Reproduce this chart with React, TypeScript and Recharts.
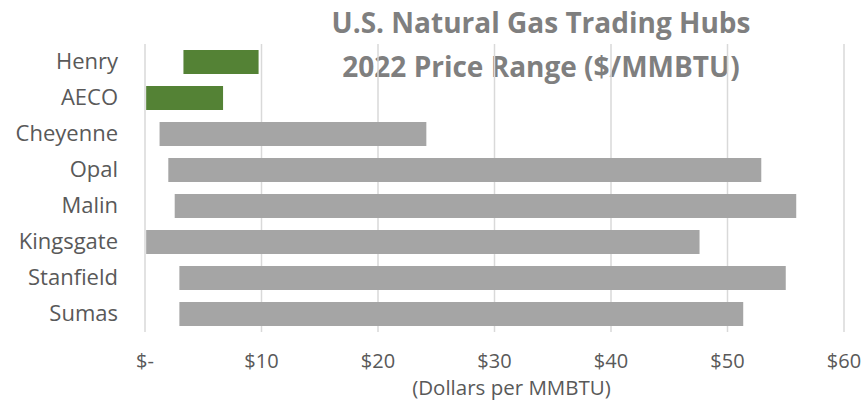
import React from 'react';
import { BarChart, Bar, XAxis, YAxis, CartesianGrid, Cell } from 'recharts';

const hubs = ['Henry', 'AECO', 'Cheyenne', 'Opal', 'Malin', 'Kingsgate', 'Stanfield', 'Sumas'];
const lows = [3.3, 0.1, 1.25, 2.0, 2.55, 0.1, 2.95, 2.95];
const highs = [9.75, 6.7, 24.15, 52.9, 55.9, 47.6, 55.0, 51.35];
const hubColors = ['#548235', '#548235', '#a5a5a5', '#a5a5a5', '#a5a5a5', '#a5a5a5', '#a5a5a5', '#a5a5a5'];
const xTicks = [0, 10, 20, 30, 40, 50, 60];
const xTickLabels = ['$-', '$10', '$20', '$30', '$40', '$50', '$60'];
const titleLines = ['U.S. Natural Gas Trading Hubs', '2022 Price Range ($/MMBTU)'];
const axisTitle = '(Dollars per MMBTU)';

const data = hubs.map((hub, i) => ({ hub, range: [lows[i], highs[i]] }));

const FONT = '"Open Sans", Lato, sans-serif';
const TEXT = '#595959';

const XTick = (props: any) => {
  const { x, y, payload, index } = props;
  const i = xTicks.indexOf(payload.value);
  return (
    <text x={x} y={y + 36} textAnchor="middle" fill={TEXT} fontFamily={FONT} fontSize={20}>
      {xTickLabels[i >= 0 ? i : index]}
    </text>
  );
};

const YTick = (props: any) => {
  const { x, y, payload } = props;
  return (
    <text x={x - 27} y={y + 7} textAnchor="end" fill={TEXT} fontFamily={FONT} fontSize={22}>
      {payload.value}
    </text>
  );
};

export default function App() {
  return (
    <div style={{ position: 'absolute', left: 0, top: 0, width: 864, height: 400, background: '#fff' }}>
      <svg width={864} height={400} style={{ position: 'absolute', left: 0, top: 0 }}>
        {titleLines.map((t, i) => (
          <text
            key={i}
            x={541}
            y={33 + i * 44}
            textAnchor="middle"
            fill="#7f7f7f"
            fontFamily={FONT}
            fontWeight="bold"
            fontSize={28}
          >
            {t}
          </text>
        ))}
      </svg>
      <div style={{ position: 'absolute', left: 0, top: 0 }}>
        <BarChart
          width={864}
          height={400}
          data={data}
          layout="vertical"
          margin={{ top: 44, right: 20, bottom: 0, left: 0 }}
          barSize={24}
        >
          <CartesianGrid horizontal={false} stroke="#d9d9d9" strokeWidth={1.5} />
          <XAxis
            type="number"
            domain={[0, 60]}
            ticks={xTicks}
            interval={0}
            axisLine={false}
            tickLine={false}
            tickSize={0}
            tickMargin={0}
            height={68}
            tick={<XTick />}
            label={{
              content: (p: any) => {
                const vb = p.viewBox;
                return (
                  <text
                    x={vb.x + vb.width / 2 + 17}
                    y={395}
                    textAnchor="middle"
                    fill={TEXT}
                    fontFamily={FONT}
                    fontSize={20.5}
                  >
                    {axisTitle}
                  </text>
                );
              },
            }}
          />
          <YAxis
            type="category"
            dataKey="hub"
            width={145}
            axisLine={false}
            tickLine={false}
            tickSize={0}
            tickMargin={0}
            interval={0}
            tick={<YTick />}
          />
          <Bar dataKey="range" isAnimationActive={false}>
            {data.map((d, i) => (
              <Cell key={d.hub} fill={hubColors[i]} />
            ))}
          </Bar>
        </BarChart>
      </div>
    </div>
  );
}
